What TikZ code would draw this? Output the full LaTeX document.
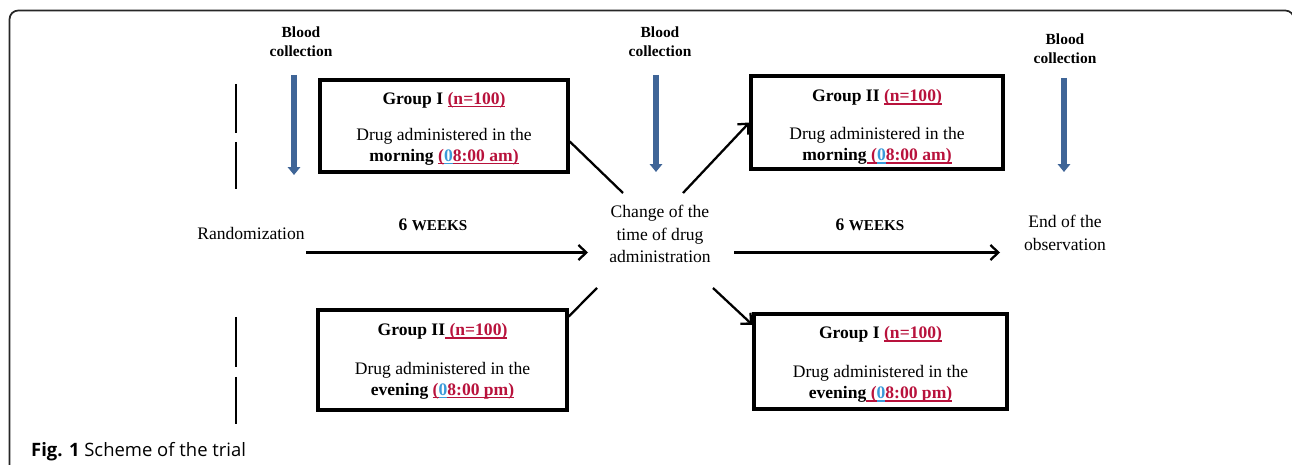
\documentclass[tikz,border=0pt]{standalone}
\usepackage{fontspec}
\setmainfont{Liberation Serif}
\newfontfamily\capfont{Open Sans}
\usetikzlibrary{arrows.meta, calc}
\definecolor{myred}{HTML}{B8123C}
\definecolor{myblue}{HTML}{3B9AD9}
\definecolor{bloodblue}{HTML}{3F6597}
\newcommand{\ulr}[1]{{\color{myred}\setbox0\hbox{#1}\rlap{\rule[-1.7pt]{\wd0}{0.8pt}}\box0}}
\newcommand{\ulb}[1]{{\color{myblue}\setbox0\hbox{#1}\rlap{\rule[-1.7pt]{\wd0}{0.8pt}}\box0}}
\newcommand{\clocktime}[2]{\ulr{#1(}\ulb{0}\ulr{8:00 #2)}}
\tikzset{
	groupbox/.style={draw, line width=1.9pt, align=center, inner sep=0pt,
			font=\fontsize{10}{12}\selectfont}
}
\tikzset{
	bloodtext/.style={font=\fontsize{8.8}{10.8}\selectfont\bfseries, align=center},
	bloodarrow/.style={bloodblue, line width=3.4pt, -{Triangle[width=7pt,length=4.5pt]}}
}
\tikzset{
	plaintext/.style={font=\fontsize{10}{13}\selectfont, align=center},
	weektext/.style={font=\fontsize{10}{12}\selectfont\bfseries},
	flowline/.style={line width=1.3pt},
	flowarrow/.style={flowline, -{Straight Barb[length=4.5pt,width=8.5pt]}}
}

\begin{document}
\begin{tikzpicture}[x=0.02cm, y=-0.02cm]

	\useasboundingbox (0,0) rectangle (1292,465);
	\begin{scope}
		\clip (0,0) rectangle (1292,465);
		\draw[line width=1pt, black!85, rounded corners=5pt]
		(9.5,480) -- (9.5,10.5) -- (1294,10.5) -- (1294,480);
	\end{scope}

	% blood collection
	\node[bloodtext] (bc1) at (301,42) {Blood\\collection};
	\node[bloodtext] (bc2) at (660,42) {Blood\\collection};
	\node[bloodtext] (bc3) at (1065,49) {Blood\\collection};

	\coordinate (ba1) at (294,75);
	\coordinate (bb1) at (294,175);
	\coordinate (ba2) at (656,75);
	\coordinate (bb2) at (656,172);
	\coordinate (ba3) at (1064,78);
	\coordinate (bb3) at (1064,172);
	\draw[bloodarrow] (ba1) -- (bb1);
	\draw[bloodarrow] (ba2) -- (bb2);
	\draw[bloodarrow] (ba3) -- (bb3);

	% left broken line
	\draw[line width=1.1pt] (236,84) -- (236,133) (236,142) -- (236,189)
	(236,317) -- (236,367) (236,377) -- (236,424);

	% groups
	\node[groupbox, minimum width=4.96cm, minimum height=1.84cm] (b1) at (444,126)
	{\rule{0pt}{10pt}\textbf{Group I \ulr{(n=100)}}\\[8.5pt]
		Drug administered in the\\
		\textbf{morning \clocktime{}{am}}};
	\node[groupbox, minimum width=5.04cm, minimum height=1.86cm] (b2) at (877,122.5)
	{\rule{0pt}{12pt}\textbf{Group II \ulr{(n=100)}}\\[9.5pt]
		Drug administered in the\\
		\textbf{morning\clocktime{\ }{am}}};
	\node[groupbox, minimum width=4.98cm, minimum height=2cm] (b3) at (442.5,360)
	{\rule{0pt}{8.6pt}\textbf{Group II\ulr{\ (n=100)}}\\[10pt]
		Drug administered in the\\
		\textbf{evening \clocktime{}{pm}}};
	\node[groupbox, minimum width=5.06cm, minimum height=1.9cm] (b4) at (880.5,361.5)
	{\rule{0pt}{10.4pt}\textbf{Group I \ulr{(n=100)}}\\[10pt]
		Drug administered in the\\
		\textbf{evening\clocktime{\ }{pm}}};

	% middle row
	\node[plaintext] (rnd) at (251,233) {Randomization};
	\node[plaintext] (chg) at (660,234) {Change of the\\time of drug\\administration};
	\node[plaintext] (endobs) at (1065,232.5) {End of the\\observation};
	\node[weektext] (wk1) at (433,225) {6 {\fontsize{8.6}{10}\selectfont WEEKS}};
	\node[weektext] (wk2) at (870,225) {6 {\fontsize{8.6}{10}\selectfont WEEKS}};

	\coordinate (w1a) at (306,252.5);
	\coordinate (w1b) at (588,252.5);
	\coordinate (w2a) at (734,252.5);
	\coordinate (w2b) at (1000,252.5);
	\draw[flowarrow] (w1a) -- (w1b);
	\draw[flowarrow] (w2a) -- (w2b);

	\coordinate (chgTL) at (623,193);
	\coordinate (chgTR) at (683,193);
	\coordinate (chgBL) at (597,288);
	\coordinate (chgBR) at (713,288);
	\draw[flowline] (b1.-7) -- (chgTL);
	\draw[flowarrow] (chgTR) -- (b2.west);
	\draw[flowline] (chgBL) -- (b3.19);
	\draw[flowarrow] (chgBR) -- (b4.164);

	\node[anchor=base west, font=\capfont\fontsize{10.5}{12.5}\selectfont] (cap) at (25,457)
	{\textbf{Fig. 1} Scheme of the trial};

\end{tikzpicture}
\end{document}
